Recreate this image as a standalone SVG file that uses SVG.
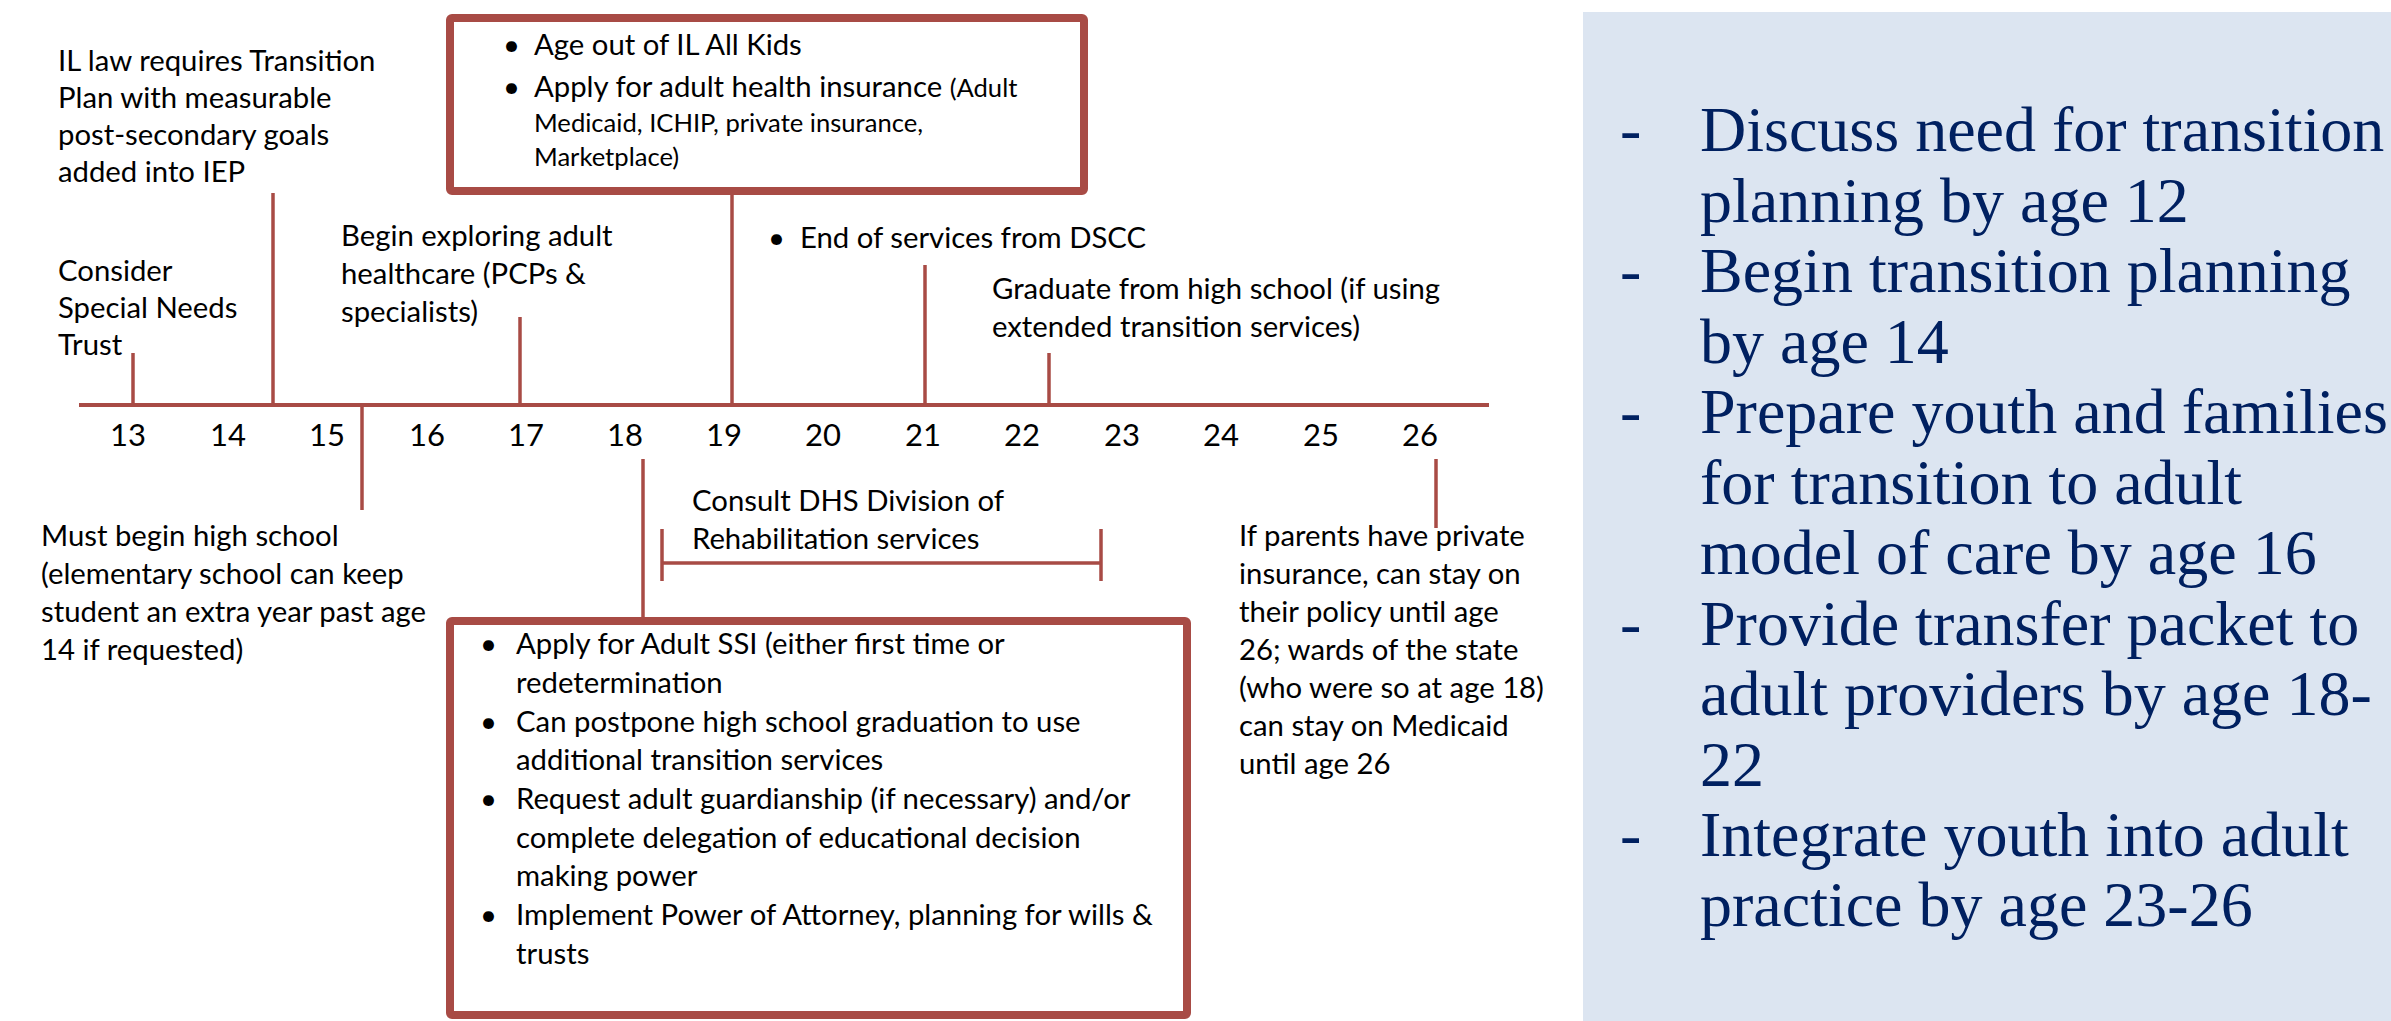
<svg xmlns="http://www.w3.org/2000/svg" width="2391" height="1021" viewBox="0 0 2391 1021">
<style>
.t{font-family:Lato,'Liberation Sans',sans-serif;font-size:29.3px;fill:#000}
.s{font-size:25.6px}
.num{font-family:Lato,'Liberation Sans',sans-serif;font-size:31px;fill:#000;text-anchor:middle}
.p{font-family:'Liberation Serif',serif;font-size:64px;fill:#002060}
.ln{stroke:#A84B45;stroke-width:4;fill:none}
.tk{stroke:#A84B45;stroke-width:3.5;fill:none}
.box{fill:#fff;stroke:#A84B45;stroke-width:8}
</style>
<rect x="0" y="0" width="2391" height="1021" fill="#fff"/>

<g id="connectors">
  <line class="ln" x1="79" y1="405" x2="1489" y2="405"/>
  <line class="tk" x1="133" y1="353" x2="133" y2="405"/>
  <line class="tk" x1="273" y1="193" x2="273" y2="405"/>
  <line class="tk" x1="520" y1="317" x2="520" y2="405"/>
  <line class="tk" x1="732" y1="195" x2="732" y2="405"/>
  <line class="tk" x1="925" y1="265" x2="925" y2="405"/>
  <line class="tk" x1="1049" y1="353" x2="1049" y2="405"/>
  <line class="tk" x1="362" y1="405" x2="362" y2="510"/>
  <line class="tk" x1="643" y1="459" x2="643" y2="617"/>
  <line class="tk" x1="1436" y1="459" x2="1436" y2="528"/>
  <path class="tk" d="M662 529 V581 M662 563 H1101 M1101 529 V581"/>
</g>

<g id="axis-labels">
  <text class="num" x="128" y="446">13</text>
  <text class="num" x="228" y="446">14</text>
  <text class="num" x="327" y="446">15</text>
  <text class="num" x="427" y="446">16</text>
  <text class="num" x="526" y="446">17</text>
  <text class="num" x="625" y="446">18</text>
  <text class="num" x="724" y="446">19</text>
  <text class="num" x="823" y="446">20</text>
  <text class="num" x="923" y="446">21</text>
  <text class="num" x="1022" y="446">22</text>
  <text class="num" x="1122" y="446">23</text>
  <text class="num" x="1221" y="446">24</text>
  <text class="num" x="1321" y="446">25</text>
  <text class="num" x="1420" y="446">26</text>
</g>

<g id="node-il-law">
  <text class="t" x="58" y="71">IL law requires Transition</text>
  <text class="t" x="58" y="108">Plan with measurable</text>
  <text class="t" x="58" y="145">post-secondary goals</text>
  <text class="t" x="58" y="182">added into IEP</text>
</g>

<g id="node-special-needs">
  <text class="t" x="58" y="281">Consider</text>
  <text class="t" x="58" y="318">Special Needs</text>
  <text class="t" x="58" y="355">Trust</text>
</g>

<g id="node-adult-healthcare">
  <text class="t" x="341" y="246">Begin exploring adult</text>
  <text class="t" x="341" y="284">healthcare (PCPs &amp;</text>
  <text class="t" x="341" y="322">specialists)</text>
</g>

<g id="node-age19">
  <rect class="box" x="450" y="18" width="634" height="173" rx="2"/>
  <text class="t" x="503" y="55">•</text>
  <text class="t" x="534" y="55">Age out of IL All Kids</text>
  <text class="t" x="503" y="97">•</text>
  <text class="t" x="534" y="97">Apply for adult health insurance <tspan class="s">(Adult</tspan></text>
  <text class="t s" x="534" y="132">Medicaid, ICHIP, private insurance,</text>
  <text class="t s" x="534" y="166">Marketplace)</text>
</g>

<g id="node-dscc">
  <text class="t" x="768" y="248">•</text>
  <text class="t" x="800" y="248">End of services from DSCC</text>
</g>

<g id="node-graduate">
  <text class="t" x="992" y="299">Graduate from high school (if using</text>
  <text class="t" x="992" y="337">extended transition services)</text>
</g>

<g id="node-high-school">
  <text class="t" x="41" y="546">Must begin high school</text>
  <text class="t" x="41" y="584">(elementary school can keep</text>
  <text class="t" x="41" y="622">student an extra year past age</text>
  <text class="t" x="41" y="660">14 if requested)</text>
</g>

<g id="node-dhs">
  <text class="t" x="692" y="511">Consult DHS Division of</text>
  <text class="t" x="692" y="549">Rehabilitation services</text>
</g>

<g id="node-age18">
  <rect class="box" x="450" y="621" width="737" height="394" rx="2"/>
  <text class="t" x="480" y="654">•</text>
  <text class="t" x="516" y="654">Apply for Adult SSI (either first time or</text>
  <text class="t" x="516" y="693">redetermination</text>
  <text class="t" x="480" y="732">•</text>
  <text class="t" x="516" y="732">Can postpone high school graduation to use</text>
  <text class="t" x="516" y="770">additional transition services</text>
  <text class="t" x="480" y="809">•</text>
  <text class="t" x="516" y="809">Request adult guardianship (if necessary) and/or</text>
  <text class="t" x="516" y="848">complete delegation of educational decision</text>
  <text class="t" x="516" y="886">making power</text>
  <text class="t" x="480" y="925">•</text>
  <text class="t" x="516" y="925">Implement Power of Attorney, planning for wills &amp;</text>
  <text class="t" x="516" y="964">trusts</text>
</g>

<g id="node-age26">
  <text class="t" x="1239" y="546">If parents have private</text>
  <text class="t" x="1239" y="584">insurance, can stay on</text>
  <text class="t" x="1239" y="622">their policy until age</text>
  <text class="t" x="1239" y="660">26; wards of the state</text>
  <text class="t" x="1239" y="698">(who were so at age 18)</text>
  <text class="t" x="1239" y="736">can stay on Medicaid</text>
  <text class="t" x="1239" y="774">until age 26</text>
</g>

<g id="node-summary">
  <rect x="1583" y="12" width="808" height="1009" fill="#DCE5F1"/>
  <text class="p" x="1620" y="151">-</text>
  <text class="p" x="1700" y="151">Discuss need for transition</text>
  <text class="p" x="1700" y="222">planning by age 12</text>
  <text class="p" x="1620" y="292">-</text>
  <text class="p" x="1700" y="292">Begin transition planning</text>
  <text class="p" x="1700" y="363">by age 14</text>
  <text class="p" x="1620" y="433">-</text>
  <text class="p" x="1700" y="433">Prepare youth and families</text>
  <text class="p" x="1700" y="504">for transition to adult</text>
  <text class="p" x="1700" y="574">model of care by age 16</text>
  <text class="p" x="1620" y="645">-</text>
  <text class="p" x="1700" y="645">Provide transfer packet to</text>
  <text class="p" x="1700" y="715">adult providers by age 18-</text>
  <text class="p" x="1700" y="786">22</text>
  <text class="p" x="1620" y="856">-</text>
  <text class="p" x="1700" y="856">Integrate youth into adult</text>
  <text class="p" x="1700" y="926">practice by age 23-26</text>
</g>
</svg>
